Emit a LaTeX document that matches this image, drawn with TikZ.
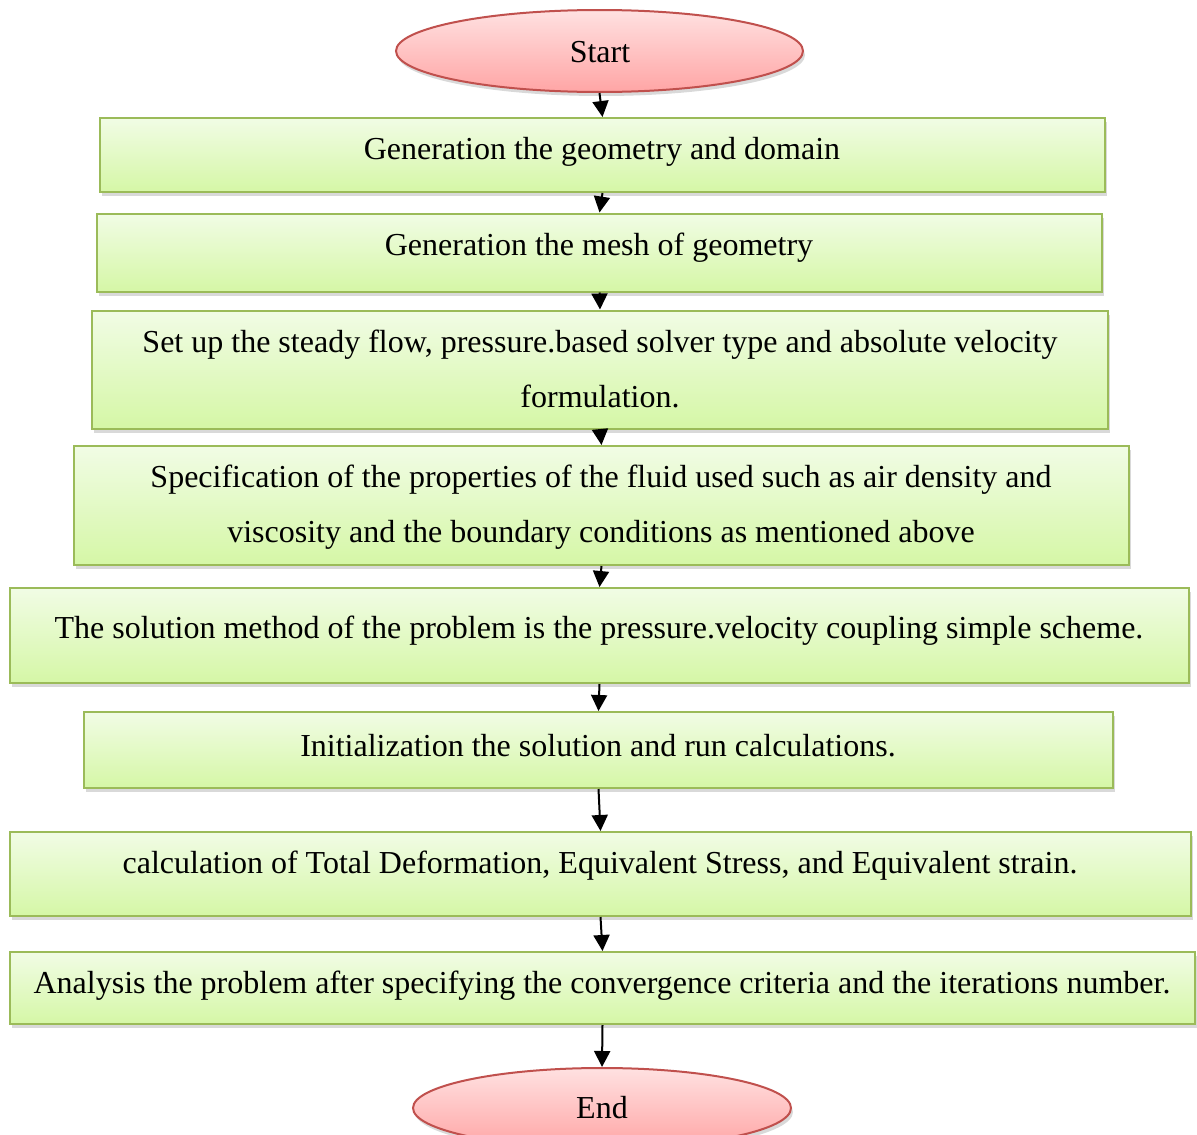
\documentclass[tikz,border=0pt]{standalone}
\usepackage{fontspec}
\setmainfont{Liberation Serif}
\usetikzlibrary{arrows.meta,shapes.geometric,shadows}
\definecolor{boxtop}{HTML}{F1FCE5}
\definecolor{boxbot}{HTML}{D5F7A6}
\definecolor{boxline}{HTML}{9BBB59}
\definecolor{elltop}{HTML}{FFE1E1}
\definecolor{ellbot}{HTML}{FFA5A5}
\definecolor{ellline}{HTML}{C0504D}
\begin{document}
\begin{tikzpicture}[x=1pt,y=-1pt,
  font=\fontsize{32}{55}\selectfont,
  stepbox/.style={draw=boxline,line width=2pt,top color=boxtop,bottom color=boxbot,
    inner sep=0pt,drop shadow={shadow xshift=2pt,shadow yshift=-4pt,opacity=0.3}},
  terminal/.style={ellipse,draw=ellline,line width=2pt,top color=elltop,bottom color=ellbot,
    inner sep=0pt,drop shadow={shadow xshift=2pt,shadow yshift=-4pt,opacity=0.3}},
  txt/.style={anchor=base,align=center,inner sep=0pt},
  flow/.style={-{Triangle[length=16pt,width=16pt]},line width=2pt}]
\useasboundingbox (0,0) rectangle (1197,1135);
% boxes
\node[terminal,minimum width=407pt,minimum height=82pt] (start) at (599.5,51) {};
\node[stepbox,minimum width=1005pt,minimum height=74pt] (geom) at (602.5,155) {};
\node[stepbox,minimum width=1005pt,minimum height=78pt] (mesh) at (599.5,252.5) {};
\node[stepbox,minimum width=1016pt,minimum height=118pt] (setup) at (600,369.5) {};
\node[stepbox,minimum width=1055pt,minimum height=119pt] (props) at (601.5,505.5) {};
\node[stepbox,minimum width=1179pt,minimum height=95pt] (method) at (599.5,635.5) {};
\node[stepbox,minimum width=1029pt,minimum height=76pt] (init) at (598.5,750) {};
\node[stepbox,minimum width=1181pt,minimum height=84pt] (calc) at (600.5,874) {};
\node[stepbox,minimum width=1185pt,minimum height=72pt] (analysis) at (602.5,988) {};
\node[terminal,minimum width=378pt,minimum height=80pt] (finish) at (602,1108) {};
% texts (base = last line)
\node[txt] (starttxt) at (600,62) {Start};
\node[txt] (geomtxt) at (602,159) {Generation the geometry and domain};
\node[txt] (meshtxt) at (599,255) {Generation the mesh of geometry};
\node[txt] (setuptxt) at (600,407) {Set up the steady flow, pressure.based solver type and absolute velocity\\formulation.};
\node[txt] (propstxt) at (601,542) {Specification of the properties of the fluid used such as air density and\\viscosity and the boundary conditions as mentioned above};
\node[txt] (methodtxt) at (599,638) {The solution method of the problem is the pressure.velocity coupling simple scheme.};
\node[txt] (inittxt) at (598,756) {Initialization the solution and run calculations.};
\node[txt] (calctxt) at (600,873) {calculation of Total Deformation, Equivalent Stress, and Equivalent strain.};
\node[txt] (analysistxt) at (602,993) {Analysis the problem after specifying the convergence criteria and the iterations number.};
\node[txt] (finishtxt) at (602,1118) {End};
% arrows
\draw[flow] (start.south) -- (geom.north);
\draw[flow] (geom.south) -- (mesh.north);
\draw[flow] (mesh.south) -- (setup.north);
\draw[flow] (setup.south) -- (props.north);
\draw[flow] (props.south) -- (method.north);
\draw[flow] (method.south) -- (init.north);
\draw[flow] (init.south) -- (calc.north);
\draw[flow] (calc.south) -- (analysis.north);
\draw[flow] (analysis.south) -- (finish.north);
\end{tikzpicture}
\end{document}
